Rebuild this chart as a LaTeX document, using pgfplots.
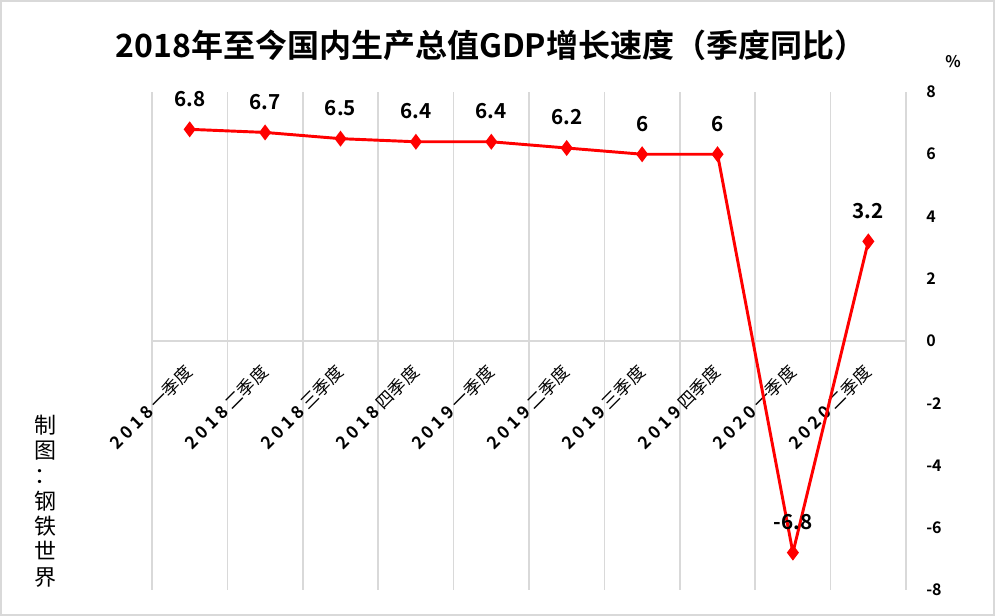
\documentclass[border=0pt]{standalone}
\usepackage{fontspec}
\setmainfont{Noto Sans CJK SC}[BoldFont={Noto Sans CJK SC Bold}]
\usepackage{pgfplots}
\pgfplotsset{compat=1.18}
\definecolor{gridgrey}{RGB}{217,217,217}
\newcommand{\yr}[1]{{\bfseries\addfontfeatures{LetterSpace=22}#1\kern3pt}}
\begin{document}
\begin{tikzpicture}[x=1pt,y=1pt]
\draw[gridgrey, line width=1.5pt] (0.6,0.6) rectangle (745.65,461.4);
\begin{axis}[
  at={(114pt,19.5pt)}, anchor=south west,
  scale only axis, width=565.5pt, height=373.5pt,
  xmin=-0.5, xmax=9.5, ymin=-8, ymax=8,
  axis x line=middle, axis y line=right,
  axis line style={draw=gridgrey, line width=1.1pt, -},
  xtick={0,...,9},
  xticklabels={\yr{2018}一季度,\yr{2018}二季度,\yr{2018}三季度,\yr{2018}四季度,\yr{2019}一季度,\yr{2019}二季度,\yr{2019}三季度,\yr{2019}四季度,\yr{2020}一季度,\yr{2020}二季度},
  xticklabel style={xshift=-4.5pt, yshift=-16.5pt, rotate=45, anchor=north east, font=\fontsize{13}{15}\selectfont, inner sep=0pt},
  minor xtick={-0.5,0.5,...,9.5},
  xminorgrids, minor grid style={draw=gridgrey, line width=1.1pt},
  major tick length=0pt, minor tick length=0pt,
  ytick={-8,-6,...,8},
  yticklabel style={anchor=west, font=\bfseries\fontsize{12}{14}\selectfont, inner sep=0pt, xshift=15pt},
  /pgf/number format/assume math mode=true,
  hide obscured y ticks=false,
  clip=false,
  nodes near coords,
  every node near coord/.append style={font=\bfseries\fontsize{15.5}{18}\selectfont, black, anchor=south, inner sep=0pt, yshift=16pt},
]
\addplot[red, line width=2.2pt, mark=diamond*, mark size=4.2pt, mark options={solid, fill=red}] coordinates {
(0,6.8) (1,6.7) (2,6.5) (3,6.4) (4,6.4) (5,6.2) (6,6) (7,6) (8,-6.8) (9,3.2)};
\end{axis}
\node[font=\bfseries\fontsize{24}{27}\selectfont] at (368.25,428.25) {2018年至今国内生产总值GDP增长速度（季度同比）};
\node[font=\bfseries\fontsize{12}{14}\selectfont] at (714.75,415.5) {\%};
\node[align=center, inner sep=0pt, font=\fontsize{16.5}{19}\selectfont] at (33.75,86.25) {制\\图\\：\\钢\\铁\\世\\界};
\pgfresetboundingbox
\useasboundingbox (0,0) rectangle (746.25,462);
\end{tikzpicture}
\end{document}
